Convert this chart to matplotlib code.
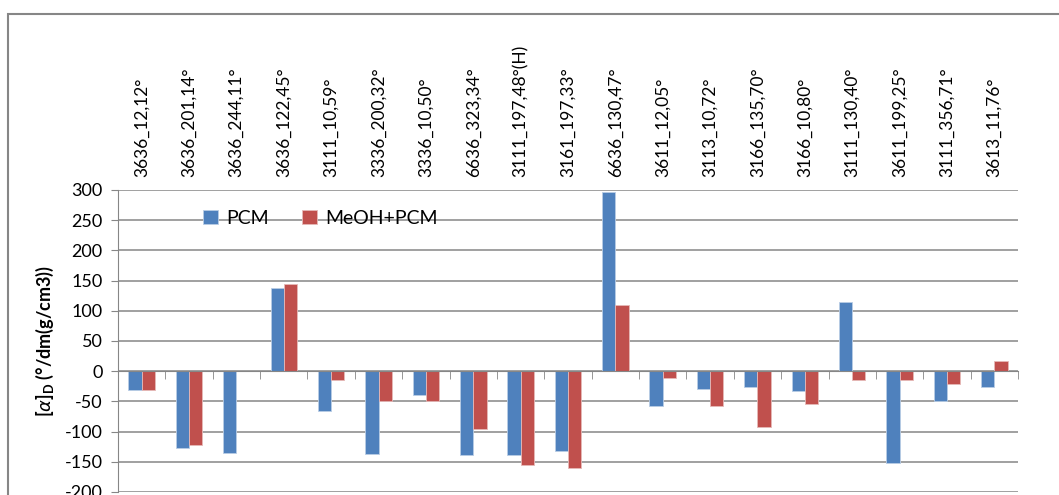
import numpy as np
import matplotlib.pyplot as plt
from matplotlib.patches import Rectangle

# dados
categorias = ["3636_12,12°", "3636_201,14°", "3636_244,11°", "3636_122,45°",
              "3111_10,59°", "3336_200,32°", "3336_10,50°", "6636_323,34°",
              "3111_197,48°(H)", "3161_197,33°", "6636_130,47°", "3611_12,05°",
              "3113_10,72°", "3166_135,70°", "3166_10,80°", "3111_130,40°",
              "3611_199,25°", "3111_356,71°", "3613_11,76°"]
pcm = [-31, -127, -135, 138, -66, -137, -40, -139, -138, -132,
       296, -58, -30, -26, -33, 115, -152, -50, -26]
meoh_pcm = [-31, -122, np.nan, 145, -14, -50, -50, -96, -155, -160,
            110, -11, -58, -92, -55, -14, -14, -21, 17]
yticks = [-200, -150, -100, -50, 0, 50, 100, 150, 200, 250, 300]

azul = "#4F81BD"
vermelho = "#C0504D"
cinza = "#868686"

fig = plt.figure(figsize=(10.59, 4.95), dpi=100)
ax = fig.add_axes([118 / 1059, 1 - 492 / 495, 900 / 1059, 302 / 495])

# moldura externa do gráfico
fig.patches.append(Rectangle((8 / 1059, -0.2), 1.2, 1.2 - 14 / 495,
                             transform=fig.transFigure, fill=False,
                             edgecolor=cinza, linewidth=1.5))

x = np.arange(len(categorias))
w = 0.28
ax.bar(x - w / 2, pcm, w, color=azul, edgecolor="#B9CDE5", linewidth=0.6,
       label="PCM", zorder=3)
ax.bar(x + w / 2, meoh_pcm, w, color=vermelho, edgecolor="#E6B9B8",
       linewidth=0.6, label="MeOH+PCM", zorder=3)

ax.set_xlim(-0.5, len(categorias) - 0.5)
ax.set_ylim(-200, 300)
ax.set_yticks(yticks)
ax.set_yticklabels([str(v) for v in yticks], family="Lato", fontsize=13)
ax.yaxis.grid(True, color=cinza, linewidth=1.1, zorder=0)
ax.tick_params(axis="y", length=5, color=cinza, pad=6)

# eixo das categorias: linha no zero, rótulos em cima
ax.spines["bottom"].set_position(("data", 0))
ax.spines["bottom"].set_color(cinza)
ax.spines["bottom"].set_zorder(4)
ax.spines["left"].set_color(cinza)
ax.spines["top"].set_visible(False)
ax.spines["right"].set_visible(False)
ax.set_xticks(x)
ax.set_xticklabels(categorias, rotation=90, family="Lato", fontsize=12.5)
ax.set_xticks(np.arange(len(categorias) + 1) - 0.5, minor=True)
ax.tick_params(axis="x", which="major", bottom=False, top=False,
               labelbottom=False, labeltop=True, pad=6)
ax.tick_params(axis="x", which="minor", bottom=True, top=False,
               direction="out", length=6, color=cinza)

ax.set_ylabel(r"[$\alpha$]$_\mathregular{D}$ (°/dm(g/cm3))", fontsize=13,
              fontweight="bold", family="Lato", labelpad=6)

ax.legend(loc="upper left", bbox_to_anchor=(185 / 1059, 1 - 192 / 495),
          bbox_transform=fig.transFigure, ncol=2, frameon=False,
          prop={"family": "Lato", "size": 14}, handlelength=0.8,
          handleheight=0.8, handletextpad=0.4, columnspacing=1.7)

fig.savefig("out.png", dpi=100)
